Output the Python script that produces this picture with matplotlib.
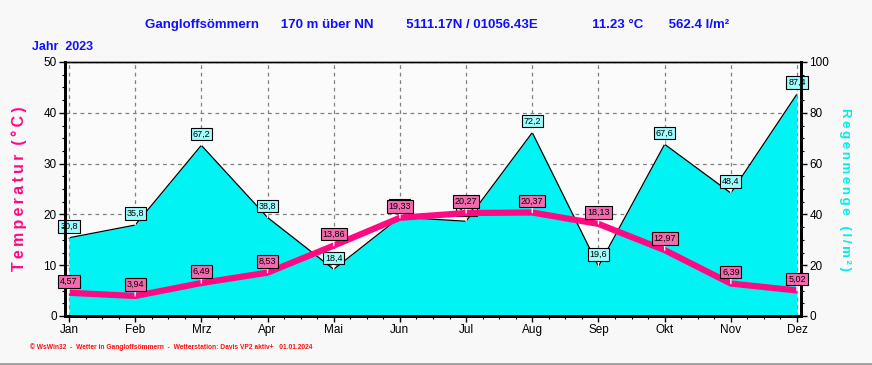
import numpy as np
import matplotlib
matplotlib.use("Agg")
import matplotlib.pyplot as plt
from matplotlib.ticker import MultipleLocator

months = ["Jan", "Feb", "Mrz", "Apr", "Mai", "Jun", "Jul", "Aug", "Sep", "Okt", "Nov", "Dez"]
temp = [4.57, 3.94, 6.49, 8.53, 13.86, 19.33, 20.27, 20.37, 18.13, 12.97, 6.39, 5.02]
rain = [30.8, 35.8, 67.2, 38.8, 18.4, 38.9, 37.3, 72.2, 19.6, 67.6, 48.4, 87.4]

title = ("Gangloffsömmern      170 m über NN         5111.17N / 01056.43E"
         "               11.23 °C       562.4 l/m²")
footer = "© WsWin32  -  Wetter in Gangloffsömmern  -  Wetterstation: Davis VP2 aktiv+   01.01.2024"

bg = "#f8f8f8"
pink = "#ff0a82"
cyan = "#00f4f4"
blue = "#1010ff"

plt.rcParams["font.family"] = ["Liberation Sans", "DejaVu Sans"]

def spaced(s, sep="\u2009"):
    return sep.join(s)

fig = plt.figure(figsize=(8.72, 3.65), dpi=100, facecolor=bg)
ax = fig.add_axes([65 / 872, 49 / 365, 736 / 872, 254 / 365])  # rain axis (right side)
ax2 = ax.twinx()
ax.set_facecolor("#fbfbfb")
x = np.arange(len(months))

# rain area
ax.fill_between(x, 0, rain, color=cyan, zorder=2, lw=0)
ax.plot(x, rain, color="black", lw=0.9, zorder=3)
ax.set_ylim(0, 100)
ax.set_xlim(-0.06, 11.06)
ax.yaxis.tick_right()
ax.yaxis.set_label_position("right")
ax.yaxis.set_major_locator(MultipleLocator(20))
ax.yaxis.set_minor_locator(MultipleLocator(5))
ax.set_xticks(x)
ax.set_xticklabels(months)
ax.xaxis.set_minor_locator(MultipleLocator(0.25))
ax.grid(True, which="major", color="#808080", ls=(0, (3, 3)), lw=0.9, zorder=0)
ax.set_axisbelow(True)
ax.tick_params(axis="both", which="major", length=4, width=1, labelsize=8.5, pad=2)
ax.tick_params(axis="both", which="minor", length=2.5, width=0.8)

for xi, r in zip(x, rain):
    ax.annotate(f"{r:.1f}".replace(".", ","), (xi, r), xytext=(0, 5), textcoords="offset points",
                ha="center", va="bottom", fontsize=6.5, zorder=5,
                bbox=dict(boxstyle="square,pad=0.2", fc="#9ffcfc", ec="black", lw=0.8),
                arrowprops=dict(arrowstyle="-", color="white", lw=1, shrinkA=0, shrinkB=0))

ax.set_ylabel(spaced("Regenmenge") + "   " + spaced("(l/m²)"), color="#00ecec", fontsize=9.5,
              fontweight="bold", rotation=-90, labelpad=16)

# temperature on top
ax2.yaxis.tick_left()
ax2.yaxis.set_label_position("left")
ax2.plot(x, temp, color=pink, lw=4.5, solid_capstyle="butt", solid_joinstyle="round", zorder=4)
ax2.set_ylim(0, 50)
ax2.yaxis.set_major_locator(MultipleLocator(10))
ax2.yaxis.set_minor_locator(MultipleLocator(2.5))
ax2.tick_params(axis="y", which="major", length=4, width=1, labelsize=8.5, pad=2)
ax2.tick_params(axis="y", which="minor", length=2.5, width=0.8)

for xi, t in zip(x, temp):
    ax2.annotate(f"{t:.2f}".replace(".", ","), (xi, t), xytext=(0, 5), textcoords="offset points",
                 ha="center", va="bottom", fontsize=6.5, zorder=6,
                 bbox=dict(boxstyle="square,pad=0.2", fc="#f46aae", ec="black", lw=0.8),
                 arrowprops=dict(arrowstyle="-", color="white", lw=1, shrinkA=0, shrinkB=0))

ax2.set_ylabel(spaced("Temperatur") + "  " + spaced("(°C)"), color=pink, fontsize=11.5,
               fontweight="bold", labelpad=12)

for a in (ax, ax2):
    a.spines["left"].set_linewidth(2)
    a.spines["right"].set_linewidth(2)
    a.spines["bottom"].set_linewidth(2)
    a.spines["top"].set_linewidth(1)

fig.text(437 / 872, 1 - 25 / 365, title, color=blue, fontsize=9.5, fontweight="bold",
         ha="center", va="center")
fig.text(32 / 872, 1 - 47 / 365, "Jahr  2023", color=blue, fontsize=9, fontweight="bold",
         ha="left", va="center")
fig.text(30 / 872, 1 - 347 / 365, footer, color="#ff1010", fontsize=4.8, fontweight="bold",
         ha="left", va="center")
fig.add_artist(plt.Line2D([0, 1], [1.5 / 365, 1.5 / 365], color="#a0a0a0", lw=2))

fig.savefig("out.png", dpi=100, facecolor=bg)
